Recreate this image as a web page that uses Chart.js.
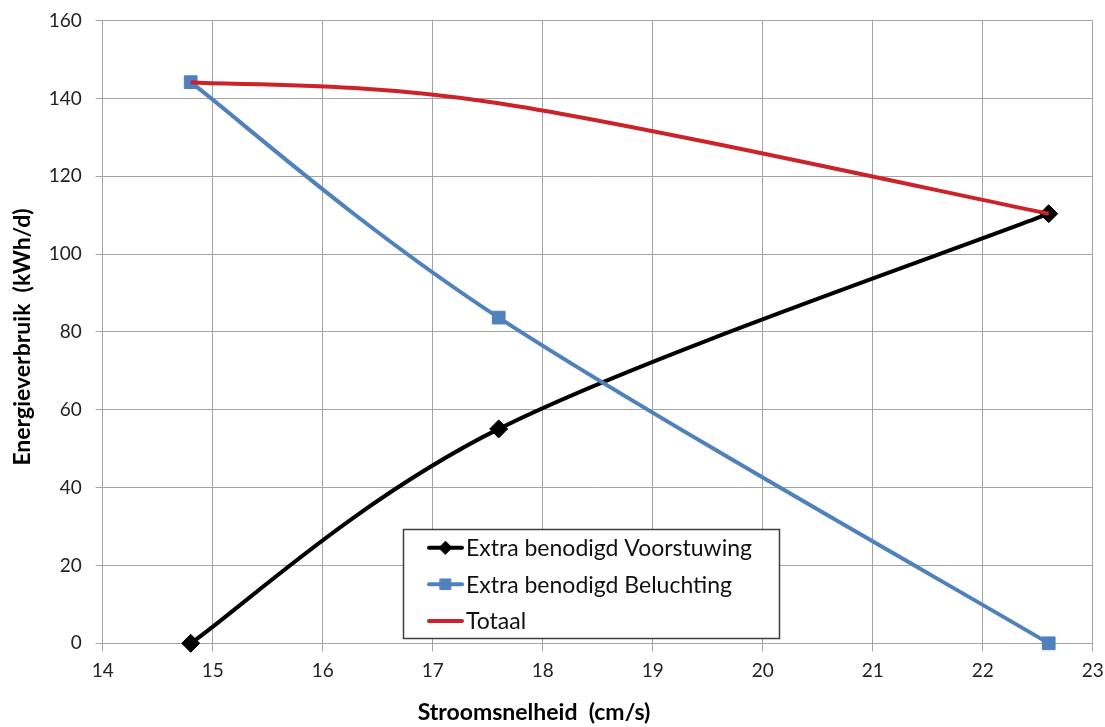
<!DOCTYPE html>
<html>
<head>
<meta charset="utf-8">
<script src="https://cdn.jsdelivr.net/npm/chart.js@4/dist/chart.umd.min.js"></script>
<style>
  html, body { margin: 0; padding: 0; background: #ffffff; }
  #wrap { width: 1105px; height: 727px; }
</style>
</head>
<body>
<div id="wrap"><canvas id="chart" width="1105" height="727"></canvas></div>
<script>
// Flow speed (cm/s) and the extra energy use (kWh/d) at each speed
const speeds = [14.8, 17.6, 22.6];
const voorstuwing = [0, 55.1, 110.4];
const beluchting = [144.2, 83.7, 0];
const totaal = [144.2, 138.8, 110.4];

const seriesNames = ['Extra benodigd Voorstuwing', 'Extra benodigd Beluchting', 'Totaal'];
const xTitle = 'Stroomsnelheid  (cm/s)';
const yTitle = 'Energieverbruik  (kWh/d)';

const FONT = 'Lato, "Open Sans", "Liberation Sans", sans-serif';
const GRID = '#a3a3a3';

// Plot frame inside the 1105 x 727 canvas
const FRAME = { left: 102.7, top: 20.7, right: 1092.7, bottom: 643.3 };
const layoutState = { yWidth: FRAME.left, xHeight: 727 - FRAME.bottom, top: FRAME.top, right: 1105 - FRAME.right };

const toPoints = (ys) => speeds.map((x, i) => ({ x: x, y: ys[i] }));

// Spreadsheet-style smoothing: each point's Bezier handles run along
// (next - previous) / 6, with end points repeating themselves.
const smoothLines = {
  id: 'smoothLines',
  beforeDatasetDraw(chart, args) {
    const meta = args.meta;
    const pts = meta.data;
    const n = pts.length;
    for (let i = 0; i < n; i++) {
      const p = pts[i];
      const prev = pts[Math.max(i - 1, 0)];
      const next = pts[Math.min(i + 1, n - 1)];
      const dx = (next.x - prev.x) / 6;
      const dy = (next.y - prev.y) / 6;
      p.cp1x = p.x - dx; p.cp1y = p.y - dy;
      p.cp2x = p.x + dx; p.cp2y = p.y + dy;
    }
    meta.dataset._pointsUpdated = true;
  }
};

// Axis titles placed under / beside the plot
const axisTitles = {
  id: 'axisTitles',
  afterDraw(chart) {
    const ctx = chart.ctx;
    ctx.save();
    ctx.fillStyle = '#000000';
    ctx.font = 'bold 23px ' + FONT;
    ctx.textAlign = 'center';
    ctx.textBaseline = 'middle';
    ctx.fillText(xTitle, 534, 713);
    ctx.translate(23, 337);
    ctx.rotate(-Math.PI / 2);
    ctx.fillText(yTitle, 0, 0);
    ctx.restore();
  }
};

// Boxed legend sitting inside the plot area
const boxLegend = {
  id: 'boxLegend',
  afterDraw(chart) {
    const ctx = chart.ctx;
    const box = { x: 403.5, y: 529.5, w: 376, h: 109 };
    const rows = [547.7, 584.3, 621];
    ctx.save();
    ctx.fillStyle = '#ffffff';
    ctx.fillRect(box.x, box.y, box.w, box.h);
    ctx.strokeStyle = '#3f3f3f';
    ctx.lineWidth = 1.5;
    ctx.strokeRect(box.x, box.y, box.w, box.h);
    chart.data.datasets.forEach((ds, i) => {
      const y = rows[i];
      ctx.strokeStyle = ds.borderColor;
      ctx.lineWidth = 4;
      ctx.lineCap = 'round';
      ctx.beginPath();
      ctx.moveTo(429, y);
      ctx.lineTo(462, y);
      ctx.stroke();
      if (ds.pointStyle && ds.pointRadius > 0) {
        ctx.fillStyle = ds.pointBackgroundColor;
        ctx.strokeStyle = ds.pointBorderColor;
        ctx.lineWidth = 1;
        Chart.helpers.drawPoint(ctx, {
          pointStyle: ds.pointStyle,
          radius: ds.legendRadius,
          borderWidth: 1
        }, 445.5, y);
      }
      ctx.fillStyle = '#111111';
      ctx.font = '23px ' + FONT;
      ctx.textAlign = 'left';
      ctx.textBaseline = 'middle';
      ctx.fillText(ds.label, 466, y + 1);
    });
    ctx.restore();
  }
};

Chart.defaults.font.family = FONT;

const chart = new Chart(document.getElementById('chart'), {
  type: 'line',
  data: {
    datasets: [
      {
        label: seriesNames[0],
        data: toPoints(voorstuwing),
        borderColor: '#000000',
        backgroundColor: '#000000',
        pointBackgroundColor: '#000000',
        pointBorderColor: '#000000',
        pointStyle: 'rectRot',
        pointRadius: 9,
        legendRadius: 6.5,
        pointBorderWidth: 1,
        borderWidth: 4,
        tension: 0.4,
        clip: false,
        order: 3
      },
      {
        label: seriesNames[1],
        data: toPoints(beluchting),
        borderColor: '#4f81bd',
        backgroundColor: '#4f81bd',
        pointBackgroundColor: '#4f81bd',
        pointBorderColor: '#4f81bd',
        pointStyle: 'rect',
        pointRadius: 9,
        legendRadius: 7.5,
        pointBorderWidth: 1,
        borderWidth: 4,
        tension: 0.4,
        clip: false,
        order: 2
      },
      {
        label: seriesNames[2],
        data: toPoints(totaal),
        borderColor: '#cc2229',
        backgroundColor: '#cc2229',
        pointStyle: false,
        pointRadius: 0,
        borderWidth: 4,
        tension: 0.4,
        clip: false,
        order: 1
      }
    ]
  },
  options: {
    responsive: false,
    devicePixelRatio: 1,
    animation: false,
    events: [],
    layout: {
      autoPadding: false,
      padding: { left: 0, top: layoutState.top, right: layoutState.right, bottom: 0 }
    },
    plugins: {
      legend: { display: false },
      tooltip: { enabled: false },
      title: { display: false }
    },
    scales: {
      x: {
        type: 'linear',
        min: 14,
        max: 23,
        afterFit(scale) {
          scale.height = layoutState.xHeight;
          scale.paddingLeft = 0;
          scale.paddingRight = 0;
        },
        ticks: { stepSize: 1, color: '#222222', font: { size: 19 }, padding: 8 },
        grid: { color: GRID, lineWidth: 1, tickLength: 8 },
        border: { color: GRID, width: 1 }
      },
      y: {
        min: 0,
        max: 160,
        afterFit(scale) {
          scale.width = layoutState.yWidth;
          scale.paddingTop = 0;
          scale.paddingBottom = 0;
        },
        ticks: { stepSize: 20, color: '#222222', font: { size: 19 }, padding: 14 },
        grid: { color: GRID, lineWidth: 1, tickLength: 7 },
        border: { color: GRID, width: 1 }
      }
    }
  },
  plugins: [smoothLines, axisTitles, boxLegend]
});

// Nudge the layout once so the plot area lands on the intended frame
const area = chart.chartArea;
layoutState.yWidth += FRAME.left - area.left;
layoutState.xHeight += area.bottom - FRAME.bottom;
layoutState.top += FRAME.top - area.top;
layoutState.right += area.right - FRAME.right;
chart.options.layout.padding = { left: 0, top: layoutState.top, right: layoutState.right, bottom: 0 };
chart.update();
</script>
</body>
</html>
